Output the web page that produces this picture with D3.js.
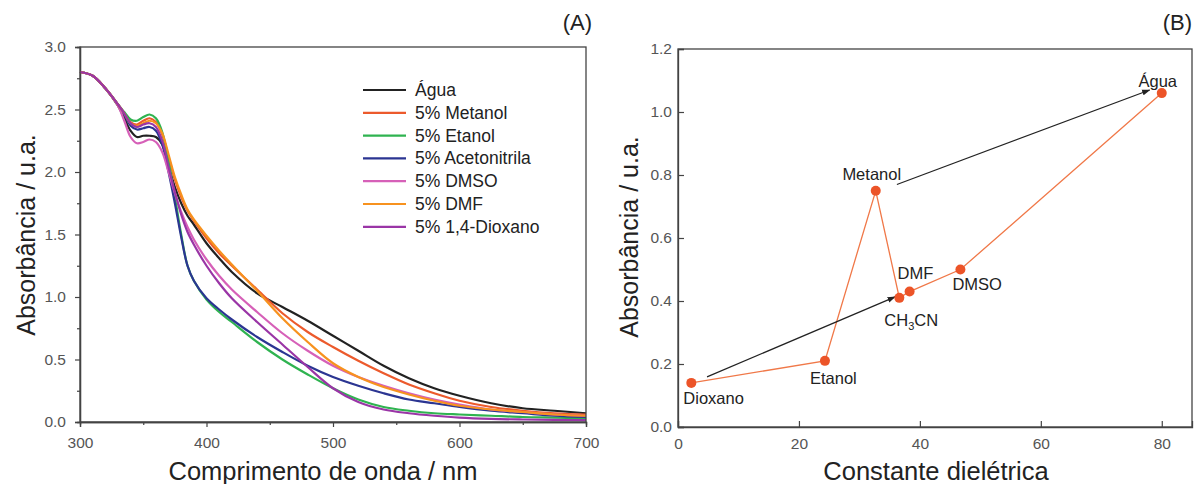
<script src="https://d3js.org/d3.v7.min.js"></script>
<style>
body{margin:0;background:#fff}
text{font-family:"Liberation Sans",Arial,sans-serif}
</style>
<div id="container"></div>
<script>
var W = 1197, H = 484;

// panel A data
var wl = [300,310,320,330,335,340,345,350,355,360,365,370,375,380,385,390,400,410,420,440,460,480,500,520,540,560,580,600,625,650,675,700];
var seriesNames = ["Água","5% Metanol","5% Etanol","5% Acetonitrila","5% DMSO","5% DMF","5% 1,4-Dioxano"];
var colors = ["#222222","#ec5a2c","#2fb350","#2b3592","#d660b8","#f7921f","#9a35a6"];
var agua   = [2.80,2.77,2.67,2.53,2.43,2.33,2.28,2.29,2.29,2.28,2.22,2.05,1.88,1.75,1.65,1.58,1.43,1.31,1.20,1.03,0.92,0.81,0.69,0.57,0.45,0.35,0.27,0.21,0.15,0.11,0.09,0.07];
var metanol= [2.80,2.77,2.67,2.54,2.47,2.40,2.38,2.41,2.43,2.40,2.30,2.12,1.94,1.80,1.69,1.61,1.47,1.35,1.25,1.06,0.87,0.72,0.60,0.49,0.39,0.30,0.23,0.17,0.12,0.09,0.07,0.06];
var etanol = [2.80,2.77,2.67,2.54,2.48,2.42,2.41,2.44,2.46,2.43,2.32,2.08,1.80,1.50,1.25,1.13,0.98,0.88,0.80,0.64,0.50,0.38,0.27,0.18,0.12,0.09,0.07,0.06,0.05,0.04,0.035,0.03];
var acn    = [2.80,2.77,2.67,2.54,2.46,2.37,2.34,2.35,2.36,2.33,2.22,2.00,1.75,1.48,1.25,1.13,0.99,0.90,0.82,0.68,0.56,0.45,0.36,0.29,0.23,0.18,0.15,0.12,0.09,0.07,0.05,0.04];
var dmso   = [2.80,2.77,2.67,2.53,2.41,2.28,2.23,2.24,2.26,2.24,2.16,2.00,1.83,1.68,1.56,1.46,1.30,1.17,1.06,0.88,0.71,0.57,0.45,0.36,0.29,0.23,0.18,0.14,0.10,0.08,0.06,0.05];
var dmf    = [2.80,2.77,2.67,2.54,2.47,2.39,2.37,2.39,2.41,2.39,2.31,2.14,1.96,1.82,1.70,1.62,1.49,1.37,1.26,1.05,0.83,0.64,0.47,0.36,0.28,0.22,0.17,0.13,0.10,0.08,0.06,0.05];
var dioxano= [2.80,2.77,2.67,2.54,2.47,2.39,2.36,2.38,2.39,2.36,2.25,2.04,1.84,1.66,1.52,1.42,1.25,1.11,0.99,0.80,0.62,0.44,0.27,0.16,0.10,0.07,0.05,0.035,0.025,0.02,0.017,0.015];
var seriesA = [agua,metanol,etanol,acn,dmso,dmf,dioxano];

// panel B data
var solvents = ["Dioxano","Etanol","Metanol","CH3CN","DMF","DMSO","Água"];
var dielectric = [2.2,24.3,32.7,36.6,38.3,46.7,80];
var absB = [0.14,0.21,0.75,0.41,0.43,0.50,1.06];
var arrowsB = [[4.8,0.159,35.9,0.413],[36.2,0.77,78,1.07]];

var svg = d3.select('#container').append('svg')
  .attr('width', W).attr('height', H)
  .style('background','#fff');

svg.append('defs').append('marker')
  .attr('id','arr').attr('viewBox','0 0 10 10').attr('refX',9).attr('refY',5)
  .attr('markerWidth',7).attr('markerHeight',7).attr('orient','auto')
  .append('path').attr('d','M0,1.5 L10,5 L0,8.5 Z').attr('fill','#222');

function frame(g, x0, x1, y0, y1){
  g.append('rect').attr('x',x0).attr('y',y1).attr('width',x1-x0).attr('height',y0-y1)
    .attr('fill','none').attr('stroke','#444').attr('stroke-width',1.3);
}

// ---- panel A
var xA = d3.scaleLinear().domain([300,700]).range([80,586]);
var yA = d3.scaleLinear().domain([0,3]).range([422,47]);
var gA = svg.append('g');

gA.append('g').attr('transform','translate(0,422)')
  .call(d3.axisBottom(xA).tickValues([300,400,500,600,700]).tickSize(5).tickPadding(10).tickFormat(d3.format('d')));
gA.append('g').attr('transform','translate(0,422)')
  .call(d3.axisBottom(xA).tickValues([350,450,550,650]).tickSize(3).tickFormat(''));
gA.append('g').attr('transform','translate(80,0)')
  .call(d3.axisLeft(yA).tickValues([0,0.5,1,1.5,2,2.5,3]).tickSize(5).tickPadding(9).tickFormat(d3.format('.1f')));
gA.append('g').attr('transform','translate(80,0)')
  .call(d3.axisLeft(yA).tickValues([0.25,0.75,1.25,1.75,2.25,2.75]).tickSize(3).tickFormat(''));

var line = d3.line().curve(d3.curveCatmullRom.alpha(0.5));
seriesA.forEach(function(s, i){
  gA.append('path')
    .attr('d', line(s.map(function(v, j){ return [xA(wl[j]), yA(v)]; })))
    .attr('fill','none').attr('stroke',colors[i]).attr('stroke-width',2.2);
});
frame(gA, 80, 586, 422, 47);

var leg = gA.append('g');
seriesNames.forEach(function(n, i){
  var yy = 90 + i*22.8;
  leg.append('line').attr('x1',363).attr('x2',406).attr('y1',yy).attr('y2',yy)
    .attr('stroke',colors[i]).attr('stroke-width',2.2);
  leg.append('text').attr('x',415).attr('y',yy+6).text(n)
    .attr('font-size',17.5).attr('fill','#222');
});

gA.append('text').attr('x',323).attr('y',480).attr('text-anchor','middle')
  .attr('font-size',25.5).attr('fill','#222').text('Comprimento de onda / nm');
gA.append('text').attr('transform','translate(35,235) rotate(-90)').attr('text-anchor','middle')
  .attr('font-size',25).attr('fill','#222').text('Absorbância / u.a.');
gA.append('text').attr('x',592).attr('y',30).attr('text-anchor','end')
  .attr('font-size',22).attr('fill','#222').text('(A)');

// ---- panel B
var xB = d3.scaleLinear().domain([0,85]).range([678,1192]);
var yB = d3.scaleLinear().domain([0,1.2]).range([427,49]);
var gB = svg.append('g');

gB.append('g').attr('transform','translate(0,427)')
  .call(d3.axisBottom(xB).tickValues([0,20,40,60,80]).tickSize(-6).tickPadding(11).tickFormat(d3.format('d')));
gB.append('g').attr('transform','translate(678,0)')
  .call(d3.axisLeft(yB).tickValues([0,0.2,0.4,0.6,0.8,1.0,1.2]).tickSize(-6).tickPadding(6).tickFormat(d3.format('.1f')));

gB.append('path')
  .attr('d', d3.line()(dielectric.map(function(d,i){ return [xB(d), yB(absB[i])]; })))
  .attr('fill','none').attr('stroke','#f07848').attr('stroke-width',1.3);

arrowsB.forEach(function(a){
  gB.append('line').attr('x1',xB(a[0])).attr('y1',yB(a[1])).attr('x2',xB(a[2])).attr('y2',yB(a[3]))
    .attr('stroke','#222').attr('stroke-width',1.2).attr('marker-end','url(#arr)');
});

gB.selectAll('circle.pt').data(dielectric).enter().append('circle')
  .attr('cx', function(d){ return xB(d); })
  .attr('cy', function(d,i){ return yB(absB[i]); })
  .attr('r',5).attr('fill','#ec5428');

// label offsets relative to each point [dx, dy, anchor]
var labOff = [[-8,21,'start'],[-15,23,'start'],[-4,-11,'middle'],[-15,28,'start'],[-12,-13,'start'],[-8,20,'start'],[-4,-6,'middle']];
solvents.forEach(function(n,i){
  var t = gB.append('text')
    .attr('x', xB(dielectric[i]) + labOff[i][0])
    .attr('y', yB(absB[i]) + labOff[i][1])
    .attr('text-anchor', labOff[i][2])
    .attr('font-size',16.5).attr('fill','#222');
  if(n === 'CH3CN'){
    t.append('tspan').text('CH');
    t.append('tspan').attr('font-size',11).attr('dy',4).text('3');
    t.append('tspan').attr('dy',-4).text('CN');
  } else t.text(n);
});
frame(gB, 678, 1192, 427, 49);

gB.append('text').attr('x',936).attr('y',480).attr('text-anchor','middle')
  .attr('font-size',25.5).attr('fill','#222').text('Constante dielétrica');
gB.append('text').attr('transform','translate(638,237) rotate(-90)').attr('text-anchor','middle')
  .attr('font-size',25).attr('fill','#222').text('Absorbância / u.a.');
gB.append('text').attr('x',1192).attr('y',30).attr('text-anchor','end')
  .attr('font-size',22).attr('fill','#222').text('(B)');

svg.selectAll('.tick text').attr('font-size',15.5).attr('fill','#555')
  .style('font-family','"Liberation Sans",Arial,sans-serif');
svg.selectAll('.domain').attr('stroke','#444').attr('stroke-width',1.3);
svg.selectAll('.tick line').attr('stroke','#444').attr('stroke-width',1.2);
</script>
